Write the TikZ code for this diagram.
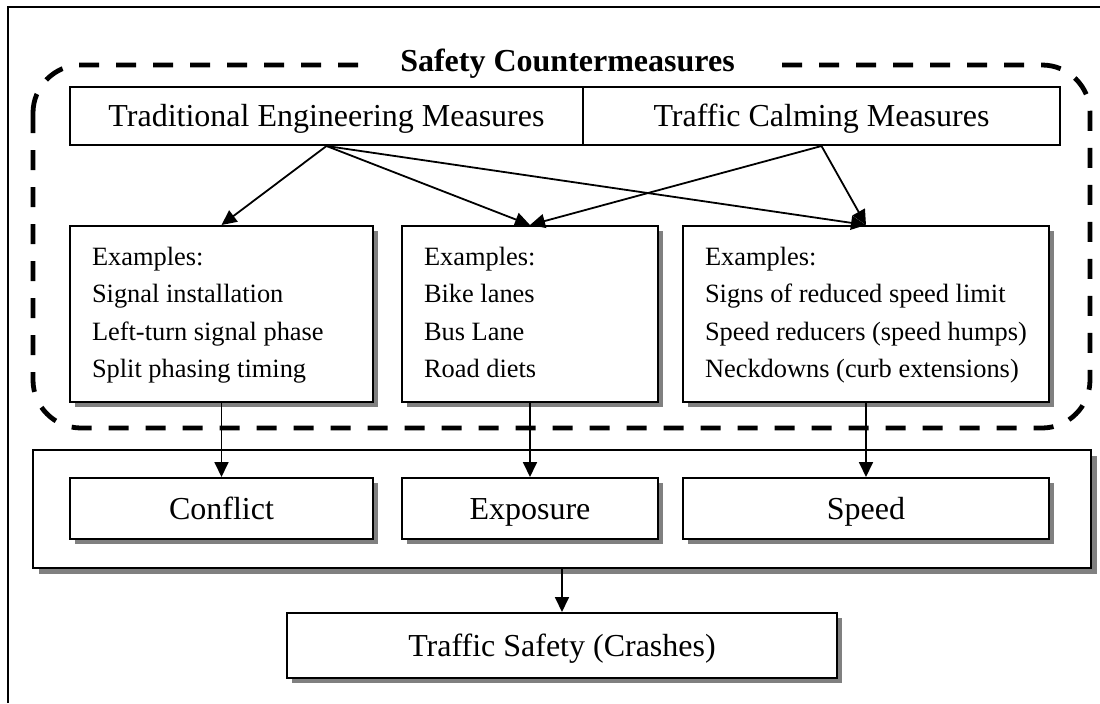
\documentclass[tikz,border=0pt]{standalone}
\usepackage{fontspec}
\setmainfont{Liberation Serif}
\usetikzlibrary{arrows.meta,shadows,positioning}

% list text: 11pt left margin, each list closed as a paragraph inside the node
\newcommand\exlist[1]{\leftskip=11pt\relax\strut#1\strut\par}

\tikzset{
  big/.style={font=\fontsize{16}{19}\selectfont},
  small/.style={font=\fontsize{13.2}{18.8}\selectfont},
  plainbox/.style={draw, line width=1pt, fill=white, inner sep=0pt, big,
                   text height=10.6pt, text depth=0pt},
  shadowbox/.style={plainbox, drop shadow={shadow xshift=2.6pt, shadow yshift=-2.6pt, fill=black!50, opacity=1}},
  examplebox/.style={draw, line width=1pt, fill=white, inner sep=0pt, small,
                     drop shadow={shadow xshift=2.6pt, shadow yshift=-2.6pt, fill=black!50, opacity=1},
                     align=flush left, text width=#1, minimum height=88pt},
  arr/.style={line width=0.9pt, -{Triangle[length=7.5pt, width=7pt]}},
}

\begin{document}
\begin{tikzpicture}[x=0.5pt, y=-0.5pt]
\useasboundingbox (0,0) rectangle (1100,703);

% outer frame: left and top rules only
\draw[line width=1pt] (8,703) -- (8,7) -- (1100,7);

% group outline for the countermeasures
\draw[line width=2.4pt, dash pattern=on 10pt off 8.5pt, rounded corners=24pt]
  (33,65) rectangle (1090,428);
\node[font=\fontsize{16}{19}\selectfont\bfseries, fill=white, inner xsep=17pt, inner ysep=0pt, anchor=base]
  (title) at (567.5,71) {Safety Countermeasures};

% measure categories
\node[plainbox, minimum width=256.5pt, minimum height=29pt] (trad) at (326.5,116) {Traditional Engineering Measures};
\node[plainbox, minimum width=238.5pt, minimum height=29pt] (calm) at (821.5,116) {Traffic Calming Measures};

% example lists
\node[examplebox=151.5pt] (exL) at (221.5,314) {\exlist{Examples:\\Signal installation\\Left-turn signal phase\\Split phasing timing}};
\node[examplebox=128pt] (exM) at (530,314) {\exlist{Examples:\\Bike lanes\\Bus Lane\\Road diets}};
\node[examplebox=183pt] (exR) at (866,314) {\exlist{Examples:\\Signs of reduced speed limit\\Speed reducers (speed humps)\\Neckdowns (curb extensions)}};

% mechanisms
\node[draw, line width=1pt, fill=white, inner sep=0pt, minimum width=529pt, minimum height=59pt,
      drop shadow={shadow xshift=3pt, shadow yshift=-3pt, fill=black!50, opacity=1}] (mech) at (562,509) {};
\node[shadowbox, minimum width=151.5pt, minimum height=30.5pt] (conflict) at (221.5,508.5) {Conflict};
\node[shadowbox, minimum width=128pt, minimum height=30.5pt] (exposure) at (530,508.5) {Exposure};
\node[shadowbox, minimum width=183pt, minimum height=30.5pt] (speed) at (866,508.5) {Speed};

% outcome
\node[shadowbox, minimum width=275pt, minimum height=32.5pt] (safety) at (562,645.5) {Traffic Safety (Crashes)};

% connectors
\draw[arr] (trad.south) -- (exL.north);
\draw[arr] (trad.south) -- (exM.north);
\draw[arr] (trad.south) -- (exR.north);
\draw[arr] (calm.south) -- (exM.north);
\draw[arr] (calm.south) -- (exR.north);
\draw[arr] (exL.south) -- (conflict.north);
\draw[arr] (exM.south) -- (exposure.north);
\draw[arr] (exR.south) -- (speed.north);
\draw[arr] (mech.south) -- (safety.north);
\end{tikzpicture}
\end{document}
